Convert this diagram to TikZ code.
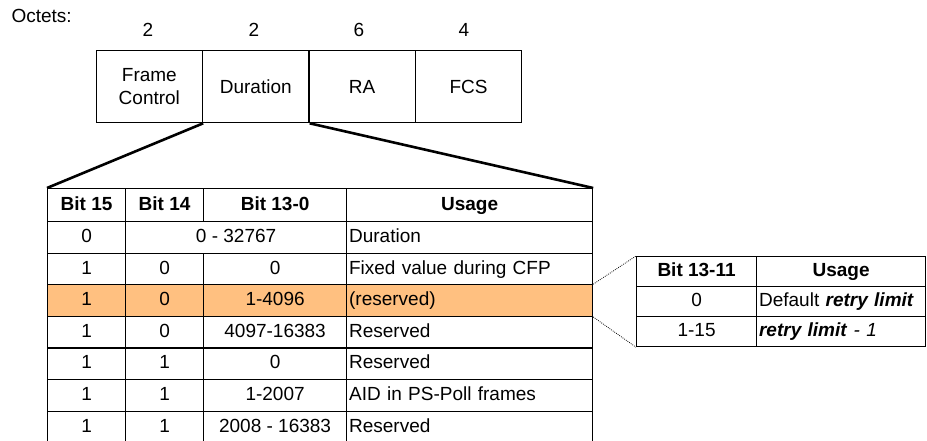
\documentclass[tikz,border=0pt]{standalone}
\usepackage{fontspec}
\setmainfont{Liberation Sans}
\definecolor{hlrow}{RGB}{255,192,128}
\begin{document}
\begin{tikzpicture}[x=1pt,y=-1pt,
  font=\fontsize{19}{23}\selectfont,
  frame/.style={draw=black, line width=1.3pt, anchor=north west, inner sep=0pt,
    minimum width=106.4pt, minimum height=72pt, align=center},
  cell/.style={draw=black, line width=1.2pt, anchor=north west, inner sep=0pt,
    text height=14pt, text depth=4pt, align=center},
  usage/.style={cell, text width=#1, inner xsep=2.5pt, align=left},
  head/.style={font=\fontsize{19}{23}\selectfont\bfseries},
  zoomline/.style={line width=2.6pt},
  dotline/.style={line width=0.8pt, dash pattern=on 0.8pt off 1.2pt}]
\path[use as bounding box] (0,0) rectangle (927,441);
\clip (0,0) rectangle (927,441);

% frame layout
\node[anchor=west] (oct) at (8,16) {Octets:};
\node[frame] (fc)  at (95.5,50)  {Frame\\Control};
\node[frame] (dur) at (201.9,50) {Duration};
\node[frame] (ra)  at (308.3,50) {RA};
\node[frame] (fcs) at (414.7,50) {FCS};
\node (n1) at (148,30) {2};
\node (n2) at (254,30) {2};
\node (n3) at (359,30) {6};
\node (n4) at (464,30) {4};

% Duration field table: header
\node[cell, head, minimum width=78pt,  minimum height=33pt] (h1) at (47,188)  {Bit 15};
\node[cell, head, minimum width=78pt,  minimum height=33pt] (h2) at (125,188) {Bit 14};
\node[cell, head, minimum width=143pt, minimum height=33pt] (h3) at (203,188) {Bit 13-0};
\node[cell, head, minimum width=246pt, minimum height=33pt] (h4) at (346,188) {Usage};

% row 1
\node[cell, minimum width=78pt,  minimum height=31.6pt] (a1) at (47,221)  {0};
\node[cell, minimum width=221pt, minimum height=31.6pt] (a2) at (125,221) {0 - 32767};
\node[usage=241pt, minimum height=31.6pt] (a4) at (346,221) {Duration};
% row 2
\node[cell, minimum width=78pt,  minimum height=31.6pt] (b1) at (47,252.6)  {1};
\node[cell, minimum width=78pt,  minimum height=31.6pt] (b2) at (125,252.6) {0};
\node[cell, minimum width=143pt, minimum height=31.6pt] (b3) at (203,252.6) {0};
\node[usage=241pt, minimum height=31.6pt] (b4) at (346,252.6) {Fixed value during CFP};
% row 3 (highlighted)
\node[cell, fill=hlrow, minimum width=78pt,  minimum height=31.6pt] (c1) at (47,284.2)  {1};
\node[cell, fill=hlrow, minimum width=78pt,  minimum height=31.6pt] (c2) at (125,284.2) {0};
\node[cell, fill=hlrow, minimum width=143pt, minimum height=31.6pt] (c3) at (203,284.2) {1-4096};
\node[usage=241pt, fill=hlrow, minimum height=31.6pt] (c4) at (346,284.2) {(reserved)};
% row 4
\node[cell, minimum width=78pt,  minimum height=31.6pt] (d1) at (47,315.8)  {1};
\node[cell, minimum width=78pt,  minimum height=31.6pt] (d2) at (125,315.8) {0};
\node[cell, minimum width=143pt, minimum height=31.6pt] (d3) at (203,315.8) {4097-16383};
\node[usage=241pt, minimum height=31.6pt] (d4) at (346,315.8) {Reserved};
% row 5
\node[cell, minimum width=78pt,  minimum height=31.6pt] (e1) at (47,347.4)  {1};
\node[cell, minimum width=78pt,  minimum height=31.6pt] (e2) at (125,347.4) {1};
\node[cell, minimum width=143pt, minimum height=31.6pt] (e3) at (203,347.4) {0};
\node[usage=241pt, minimum height=31.6pt] (e4) at (346,347.4) {Reserved};
% row 6
\node[cell, minimum width=78pt,  minimum height=31.6pt] (f1) at (47,379)  {1};
\node[cell, minimum width=78pt,  minimum height=31.6pt] (f2) at (125,379) {1};
\node[cell, minimum width=143pt, minimum height=31.6pt] (f3) at (203,379) {1-2007};
\node[usage=241pt, minimum height=31.6pt] (f4) at (346,379) {AID in PS-Poll frames};
% row 7
\node[cell, minimum width=78pt,  minimum height=31.6pt] (g1) at (47,410.6)  {1};
\node[cell, minimum width=78pt,  minimum height=31.6pt] (g2) at (125,410.6) {1};
\node[cell, minimum width=143pt, minimum height=31.6pt] (g3) at (203,410.6) {2008 - 16383};
\node[usage=241pt, minimum height=31.6pt] (g4) at (346,410.6) {Reserved};

% zoom lines from the Duration field
\draw[zoomline] (fc.south east) -- (h1.north west);
\draw[zoomline] (dur.south east) -- (h4.north east);

% retry limit table
\node[cell, head, minimum width=120pt, minimum height=30pt] (rh1) at (636,256) {Bit 13-11};
\node[cell, head, minimum width=169pt, minimum height=30pt] (rh2) at (756,256) {Usage};
\node[cell, minimum width=120pt, minimum height=30pt] (rb1) at (636,286) {0};
\node[usage=164pt, minimum height=30pt] (rb2) at (756,286) {Default \textbf{\itshape retry limit}};
\node[cell, minimum width=120pt, minimum height=30pt] (rc1) at (636,316) {1-15};
\node[usage=164pt, minimum height=30pt] (rc2) at (756,316) {\textbf{\itshape retry limit}\textit{ - 1}};

% dotted links to the highlighted row
\draw[dotline] (c4.north east) -- (rh1.north west);
\draw[dotline] (c4.south east) -- (rc1.south west);
\end{tikzpicture}
\end{document}
